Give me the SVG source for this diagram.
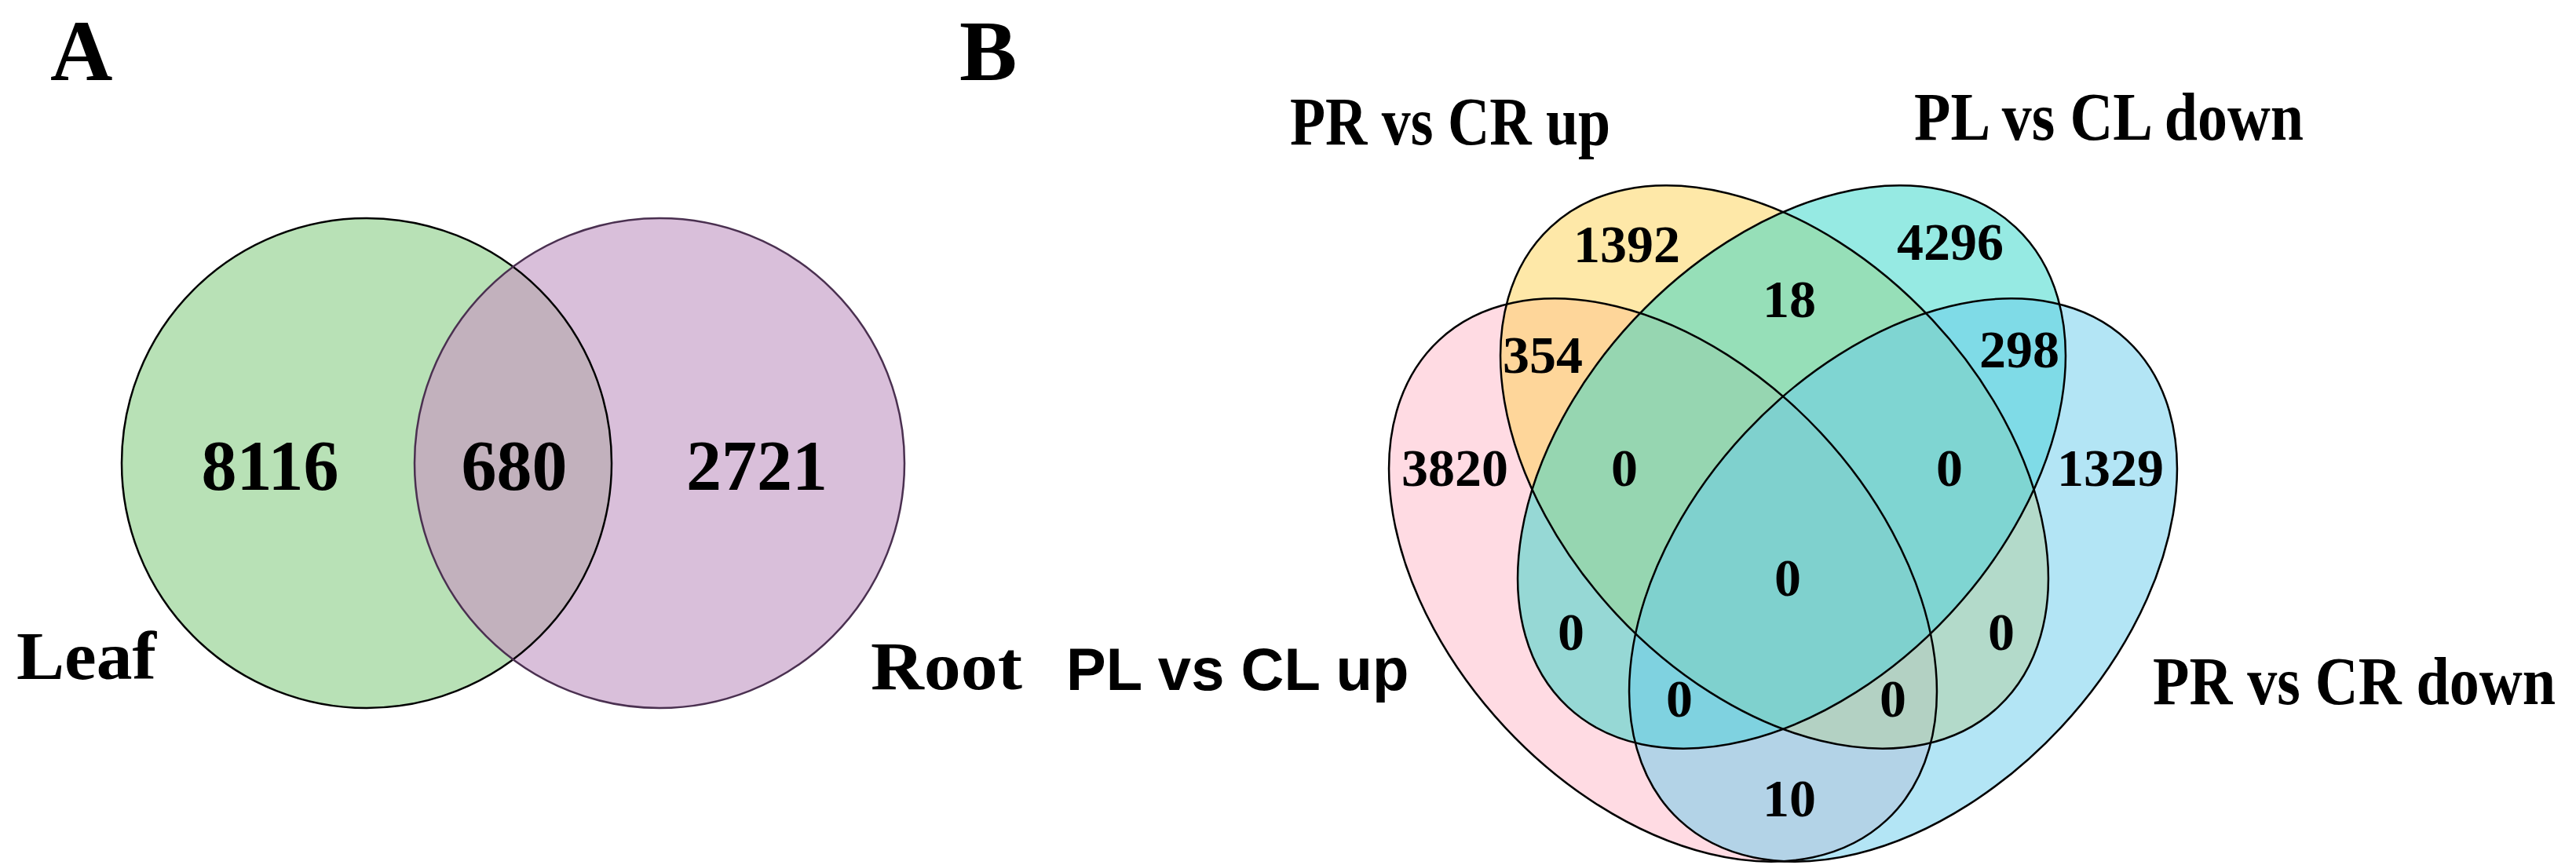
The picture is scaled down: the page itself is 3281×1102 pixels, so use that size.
<svg xmlns="http://www.w3.org/2000/svg" width="3281" height="1102" viewBox="0 0 3281 1102">
<style>
.n{font-family:"Liberation Serif",serif;font-weight:bold;font-size:68px;text-anchor:middle}
.a{font-family:"Liberation Serif",serif;font-weight:bold;font-size:90px;text-anchor:middle}
.l{font-family:"Liberation Serif",serif;font-weight:bold;font-size:86px}
.p{font-family:"Liberation Serif",serif;font-weight:bold;font-size:110px}
.s{fill:none;stroke:#000;stroke-width:2.5}
</style>
<defs>
<clipPath id="cr"><circle cx="840" cy="590" r="312"/></clipPath>
</defs>
<rect width="3281" height="1102" fill="#fff"/>
<text class="p" x="64" y="102">A</text>
<text class="p" x="1222" y="102">B</text>
<g id="leaf"><circle cx="467" cy="590" r="312" fill="#B8E1B6"/></g>
<g id="root"><circle cx="840" cy="590" r="312" fill="#D9BFDA"/>
<circle cx="467" cy="590" r="312" fill="#C2B1BD" clip-path="url(#cr)"/></g>
<g id="outlinesA">
<circle cx="467" cy="590" r="312" class="s"/>
<circle cx="840" cy="590" r="312" fill="none" stroke="#4a3050" stroke-width="2.5"/>
</g>
<text class="a" x="344" y="624">8116</text>
<text class="a" x="655" y="624">680</text>
<text class="a" x="964" y="624">2721</text>
<text class="l" x="21" y="865" font-size="100" textLength="178" lengthAdjust="spacingAndGlyphs">Leaf</text>
<text class="l" x="1109" y="878" font-size="100" textLength="193" lengthAdjust="spacingAndGlyphs">Root</text>

<g id="venn4" fill-opacity="0.5">
<g id="plup"><ellipse cx="2118" cy="739" rx="418" ry="275" transform="rotate(47 2118 739)" fill="#FFB7C7"/></g>
<g id="prup"><ellipse cx="2260" cy="595" rx="418" ry="275" transform="rotate(47 2260 595)" fill="#FDD151"/></g>
<g id="pldown"><ellipse cx="2282" cy="595" rx="418" ry="275" transform="rotate(-47 2282 595)" fill="#2DD5C7"/></g>
<g id="prdown"><ellipse cx="2424" cy="739" rx="418" ry="275" transform="rotate(-47 2424 739)" fill="#67CBEB"/></g>
</g>
<g id="outlinesB" class="s">
<ellipse cx="2118" cy="739" rx="418" ry="275" transform="rotate(47 2118 739)"/>
<ellipse cx="2260" cy="595" rx="418" ry="275" transform="rotate(47 2260 595)"/>
<ellipse cx="2282" cy="595" rx="418" ry="275" transform="rotate(-47 2282 595)"/>
<ellipse cx="2424" cy="739" rx="418" ry="275" transform="rotate(-47 2424 739)"/>
</g>
<text class="l" x="1643" y="184" textLength="408" lengthAdjust="spacingAndGlyphs">PR vs CR up</text>
<text class="l" x="2438" y="178" textLength="496" lengthAdjust="spacingAndGlyphs">PL vs CL down</text>
<text class="l" x="2742" y="897" textLength="513" lengthAdjust="spacingAndGlyphs">PR vs CR down</text>
<text x="1358" y="879" font-family="Liberation Sans,Arial,sans-serif" font-weight="bold" font-size="76">PL vs CL up</text>
<g class="n">
<text x="2072" y="334">1392</text>
<text x="2484" y="331">4296</text>
<text x="2279" y="404">18</text>
<text x="1965" y="475">354</text>
<text x="2572" y="468">298</text>
<text x="1853" y="619">3820</text>
<text x="2069" y="619">0</text>
<text x="2483" y="619">0</text>
<text x="2688" y="619">1329</text>
<text x="2277" y="759">0</text>
<text x="2001" y="828">0</text>
<text x="2549" y="828">0</text>
<text x="2139" y="913">0</text>
<text x="2411" y="913">0</text>
<text x="2279" y="1040">10</text>
</g>
</svg>
